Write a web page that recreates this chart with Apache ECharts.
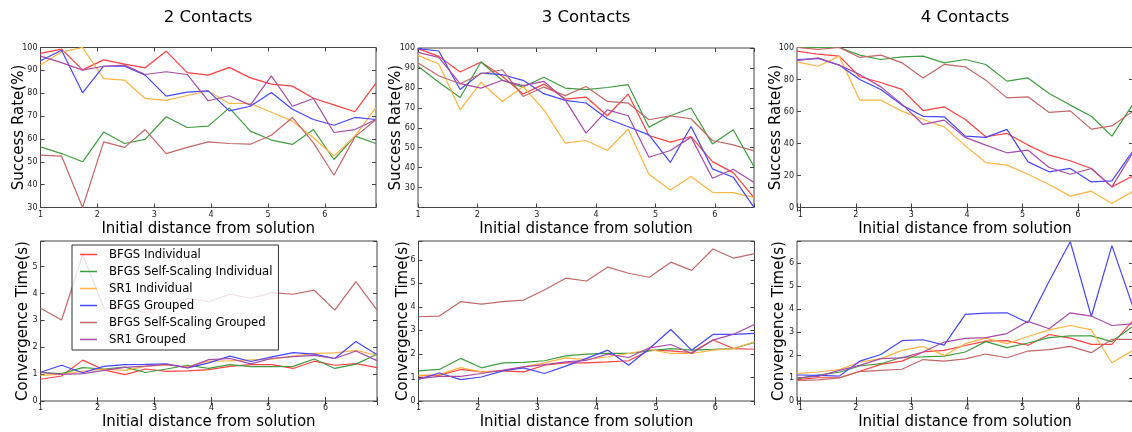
<!DOCTYPE html>
<html>
<head>
<meta charset="utf-8">
<title>Success rate and convergence time by number of contacts</title>
<script src="https://cdn.jsdelivr.net/npm/echarts@6.0.0/dist/echarts.min.js"></script>
<style>
  html, body { margin: 0; padding: 0; background: #fff; }
  #chart { width: 1132px; height: 432px; }
</style>
</head>
<body>
<div id="chart"></div>
<script>
// x positions (initial distance from solution) for each contact count
const xTwo   = [1.00, 1.37, 1.74, 2.11, 2.48, 2.84, 3.21, 3.58, 3.95, 4.32, 4.69, 5.06, 5.43, 5.80, 6.16, 6.53, 6.90]
const xThree = [1.00, 1.35, 1.71, 2.06, 2.42, 2.77, 3.12, 3.48, 3.83, 4.19, 4.54, 4.89, 5.25, 5.60, 5.96, 6.31, 6.66]
const xFour  = [0.94, 1.32, 1.70, 2.07, 2.45, 2.83, 3.21, 3.59, 3.97, 4.34, 4.72, 5.10, 5.48, 5.86, 6.24, 6.61, 6.99]

const methods = ['BFGS Individual', 'BFGS Self-Scaling Individual', 'SR1 Individual',
  'BFGS Grouped', 'BFGS Self-Scaling Grouped', 'SR1 Grouped']
const colors = ['#ff4040', '#3f9d3f', '#ffb444', '#4646ff', '#c26868', '#a64ca6']

// success rate (%) - 2 contacts
const rate2BfgsInd   = [97.4, 99.3, 90.2, 94.6, 92.7, 91.1, 98.4, 89.0, 87.9, 91.3, 86.7, 84.0, 83.1, 77.8, 74.9, 71.9, 84.4]
const rate2SelfInd   = [56.5, 53.6, 50.0, 63.0, 58.0, 59.8, 69.7, 65.0, 65.6, 73.6, 63.4, 59.5, 57.6, 64.1, 51.0, 61.2, 58.0]
const rate2Sr1Ind    = [92.3, 98.1, 100, 86.4, 85.7, 77.7, 76.9, 79.0, 81.0, 75.5, 75.5, 71.7, 67.8, 60.5, 52.5, 61.2, 73.8]
const rate2BfgsGrp   = [94.2, 98.8, 80.2, 91.8, 91.8, 87.9, 78.7, 80.5, 81.0, 72.3, 74.3, 80.3, 73.0, 68.5, 66.0, 69.4, 68.5]
const rate2SelfGrp   = [52.9, 52.5, 30.0, 58.7, 56.3, 64.1, 53.6, 56.3, 58.7, 58.0, 57.7, 61.6, 69.4, 58.3, 44.1, 60.9, 68.5]
const rate2Sr1Grp    = [96.2, 93.4, 90.1, 91.8, 92.3, 88.2, 89.4, 88.2, 76.7, 78.9, 74.8, 87.6, 74.3, 77.7, 62.8, 64.1, 68.5]

// success rate (%) - 3 contacts
const rate3BfgsInd   = [99.7, 95.8, 88.0, 93.0, 85.8, 76.9, 81.9, 74.4, 75.4, 66.0, 76.9, 56.1, 52.8, 55.6, 43.0, 37.5, 25.0]
const rate3SelfInd   = [90.8, 82.8, 75.2, 93.0, 83.8, 80.4, 85.3, 79.9, 79.1, 80.2, 81.6, 60.3, 66.0, 69.9, 51.9, 59.0, 40.5]
const rate3Sr1Ind    = [96.3, 92.0, 69.0, 82.8, 73.2, 80.7, 69.0, 52.3, 53.6, 48.6, 59.3, 36.7, 28.8, 35.5, 27.6, 27.5, 25.0]
const rate3BfgsGrp   = [99.7, 98.5, 79.2, 87.4, 86.6, 83.8, 77.1, 73.7, 72.4, 64.5, 60.5, 56.4, 42.6, 60.6, 39.4, 35.2, 20.1]
const rate3SelfGrp   = [92.5, 86.1, 82.1, 87.1, 89.1, 75.7, 80.4, 76.1, 80.7, 73.2, 72.4, 64.0, 66.0, 64.5, 53.6, 51.4, 48.4]
const rate3Sr1Grp    = [97.8, 95.3, 82.1, 79.9, 83.8, 81.1, 83.3, 74.0, 57.3, 69.0, 66.0, 45.2, 48.6, 55.3, 34.7, 39.2, 32.5]

// success rate (%) - 4 contacts
const rate4BfgsInd   = [97.7, 95.8, 94.6, 81.7, 78.1, 73.8, 60.6, 62.9, 55.0, 44.2, 46.3, 39.0, 32.7, 29.2, 24.4, 12.9, 19.8]
const rate4SelfInd   = [100, 100, 100, 95.2, 92.5, 94.2, 94.6, 90.4, 92.5, 89.4, 79.0, 81.0, 71.3, 64.0, 57.0, 44.6, 64.6]
const rate4Sr1Ind    = [91.0, 88.3, 94.6, 67.1, 67.1, 60.2, 55.0, 50.4, 38.5, 28.1, 26.5, 20.8, 14.4, 7.1, 10.2, 2.5, 10.2]
const rate4BfgsGrp   = [92.5, 93.1, 89.0, 80.0, 73.8, 64.0, 57.0, 56.7, 44.6, 43.8, 48.8, 28.5, 22.3, 24.4, 16.0, 16.7, 35.4]
const rate4SelfGrp   = [100, 98.8, 100, 93.8, 95.2, 90.4, 81.0, 89.4, 87.9, 79.6, 68.5, 69.2, 59.4, 60.4, 49.0, 51.0, 60.2]
const rate4Sr1Grp    = [91.7, 93.5, 89.0, 83.1, 75.4, 64.6, 51.9, 54.6, 43.8, 39.0, 34.2, 35.8, 25.0, 20.8, 24.4, 12.9, 34.4]

// convergence time (s) - 2 contacts
const time2BfgsInd   = [0.81, 0.93, 1.52, 1.16, 0.98, 1.19, 1.10, 1.12, 1.17, 1.29, 1.35, 1.35, 1.21, 1.48, 1.33, 1.39, 1.24]
const time2SelfInd   = [1.06, 1.02, 1.24, 1.19, 1.26, 1.06, 1.19, 1.33, 1.21, 1.35, 1.28, 1.28, 1.29, 1.56, 1.21, 1.37, 1.74]
const time2Sr1Ind    = [0.95, 0.99, 1.11, 1.19, 1.14, 1.29, 1.33, 1.28, 1.48, 1.49, 1.53, 1.56, 1.67, 1.77, 1.79, 1.88, 1.70]
const time2BfgsGrp   = [1.07, 1.33, 1.05, 1.29, 1.35, 1.36, 1.38, 1.23, 1.42, 1.67, 1.47, 1.64, 1.80, 1.74, 1.58, 2.21, 1.72]
const time2SelfGrp   = [3.45, 3.01, 5.44, 3.45, 3.50, 3.28, 3.57, 3.82, 3.69, 3.97, 3.82, 4.03, 3.97, 4.12, 3.38, 4.44, 3.38]
const time2Sr1Grp    = [1.06, 0.99, 1.02, 1.14, 1.25, 1.30, 1.36, 1.24, 1.54, 1.58, 1.38, 1.59, 1.65, 1.70, 1.58, 1.86, 1.50]

// convergence time (s) - 3 contacts
const time3BfgsInd   = [1.07, 1.09, 1.34, 1.24, 1.28, 1.24, 1.52, 1.62, 1.62, 1.66, 1.71, 2.16, 2.13, 2.06, 2.59, 2.23, 2.20]
const time3SelfInd   = [1.28, 1.34, 1.81, 1.41, 1.62, 1.64, 1.71, 1.92, 1.99, 2.02, 2.02, 2.13, 2.23, 2.16, 2.19, 2.23, 2.49]
const time3Sr1Ind    = [1.09, 1.12, 1.42, 1.24, 1.27, 1.45, 1.62, 1.83, 1.76, 1.88, 2.02, 2.19, 2.02, 2.02, 2.16, 2.23, 2.52]
const time3BfgsGrp   = [0.92, 1.19, 0.91, 1.02, 1.28, 1.41, 1.17, 1.48, 1.81, 2.16, 1.52, 2.23, 3.04, 2.16, 2.83, 2.83, 2.87]
const time3SelfGrp   = [3.58, 3.61, 4.22, 4.12, 4.22, 4.29, 4.72, 5.22, 5.10, 5.69, 5.43, 5.26, 5.90, 5.55, 6.46, 6.07, 6.26]
const time3Sr1Grp    = [0.95, 1.05, 1.05, 1.17, 1.31, 1.45, 1.55, 1.66, 1.73, 1.99, 1.85, 2.26, 2.40, 2.02, 2.59, 2.84, 3.25]

// convergence time (s) - 4 contacts
const time4BfgsInd   = [0.93, 1.01, 1.01, 1.29, 1.59, 1.73, 2.13, 2.20, 2.41, 2.60, 2.62, 2.42, 2.89, 2.73, 2.46, 2.46, 3.50]
const time4SelfInd   = [0.97, 1.12, 1.25, 1.52, 1.62, 1.90, 1.92, 1.95, 2.13, 2.58, 2.32, 2.52, 2.75, 2.83, 2.83, 2.58, 3.25]
const time4Sr1Ind    = [1.19, 1.26, 1.36, 1.69, 1.84, 2.20, 2.37, 1.98, 2.49, 2.73, 2.49, 2.80, 3.09, 3.28, 3.09, 1.66, 2.20]
const time4BfgsGrp   = [1.13, 1.11, 1.08, 1.73, 2.02, 2.62, 2.66, 2.43, 3.76, 3.82, 3.83, 3.40, 5.20, 6.92, 3.67, 6.75, 4.08]
const time4SelfGrp   = [0.90, 0.92, 1.00, 1.28, 1.33, 1.38, 1.80, 1.73, 1.83, 2.04, 1.88, 2.17, 2.23, 2.37, 2.10, 2.68, 2.68]
const time4Sr1Grp    = [1.01, 1.07, 1.33, 1.55, 1.84, 1.87, 2.13, 2.56, 2.72, 2.75, 2.93, 3.46, 3.14, 3.83, 3.69, 3.28, 3.35]

const panels = [
  { grid: { left: 40.5, top: 47.5, width: 335.5, height: 160 }, x: xTwo, xMin: 1, xMax: 6.9,
    yMin: 30, yMax: 100, yStep: 10, yName: 'Success Rate(%)', yGap: 14,
    lines: [rate2BfgsInd, rate2SelfInd, rate2Sr1Ind, rate2BfgsGrp, rate2SelfGrp, rate2Sr1Grp] },
  { grid: { left: 418, top: 48, width: 336, height: 159.5 }, x: xThree, xMin: 1, xMax: 6.66,
    yMin: 20, yMax: 100, yStep: 10, yName: 'Success Rate(%)', yGap: 14, hideYMin: true,
    lines: [rate3BfgsInd, rate3SelfInd, rate3Sr1Ind, rate3BfgsGrp, rate3SelfGrp, rate3Sr1Grp] },
  { grid: { left: 797, top: 47.5, width: 336, height: 160 }, x: xFour, xMin: 0.94, xMax: 6.99,
    yMin: 0, yMax: 100, yStep: 20, yName: 'Success Rate(%)', yGap: 13,
    lines: [rate4BfgsInd, rate4SelfInd, rate4Sr1Ind, rate4BfgsGrp, rate4SelfGrp, rate4Sr1Grp] },
  { grid: { left: 40.5, top: 241, width: 336.5, height: 160 }, x: xTwo, xMin: 1, xMax: 6.9,
    yMin: 0, yMax: 5.95, yStep: 1, yName: 'Convergence Time(s)', yGap: 10,
    lines: [time2BfgsInd, time2SelfInd, time2Sr1Ind, time2BfgsGrp, time2SelfGrp, time2Sr1Grp] },
  { grid: { left: 418.5, top: 241, width: 336, height: 160 }, x: xThree, xMin: 1, xMax: 6.66,
    yMin: 0, yMax: 6.8, yStep: 1, yName: 'Convergence Time(s)', yGap: 8,
    lines: [time3BfgsInd, time3SelfInd, time3Sr1Ind, time3BfgsGrp, time3SelfGrp, time3Sr1Grp] },
  { grid: { left: 797, top: 241, width: 336, height: 160 }, x: xFour, xMin: 0.94, xMax: 6.99,
    yMin: 0, yMax: 6.95, yStep: 1, yName: 'Convergence Time(s)', yGap: 10,
    lines: [time4BfgsInd, time4SelfInd, time4Sr1Ind, time4BfgsGrp, time4SelfGrp, time4Sr1Grp] }
]

const titles = [
  { text: '2 Contacts', x: 208 },
  { text: '3 Contacts', x: 586 },
  { text: '4 Contacts', x: 965 }
]

const frameColor = '#444'

// only whole numbers get a label (the extent ends are ticks too)
const intLabel = (v) => Math.abs(v - Math.round(v)) < 1e-6 ? String(Math.round(v)) : ''

const tickStyle = { inside: true, length: 4, lineStyle: { color: frameColor, width: 1 } }

const grids = []
const xAxes = []
const yAxes = []
const series = []

panels.forEach((p, i) => {
  grids.push(Object.assign({ show: true, borderColor: frameColor, borderWidth: 1,
    backgroundColor: 'transparent', outerBoundsMode: 'none', containLabel: false }, p.grid))

  const xBase = {
    type: 'value', gridIndex: i, min: p.xMin, max: p.xMax, splitNumber: 6,
    axisLine: { show: false }, axisTick: tickStyle, splitLine: { show: false }
  }
  xAxes.push(Object.assign({}, xBase, {
    position: 'bottom',
    axisLabel: { fontSize: 8, color: '#222', margin: 3, formatter: intLabel },
    name: 'Initial distance from solution', nameLocation: 'middle', nameGap: 14,
    nameMoveOverlap: false,
    nameTextStyle: { fontSize: 15, color: '#000' }
  }))
  xAxes.push(Object.assign({}, xBase, { position: 'top', axisLabel: { show: false } }))

  const yBase = {
    type: 'value', gridIndex: i, min: p.yMin, max: p.yMax, interval: p.yStep,
    axisLine: { show: false }, axisTick: tickStyle, splitLine: { show: false }
  }
  yAxes.push(Object.assign({}, yBase, {
    position: 'left',
    axisLabel: { fontSize: 8, color: '#222', margin: 3, formatter: intLabel, showMinLabel: !p.hideYMin },
    name: p.yName, nameLocation: 'middle', nameGap: p.yGap,
    nameMoveOverlap: false,
    nameTextStyle: { fontSize: 15, color: '#000' }
  }))
  yAxes.push(Object.assign({}, yBase, { position: 'right', axisLabel: { show: false } }))

  p.lines.forEach((ys, k) => {
    series.push({
      name: methods[k],
      type: 'line',
      xAxisIndex: i * 2,
      yAxisIndex: i * 2,
      data: p.x.map((x, j) => [x, ys[j]]),
      symbol: 'none',
      color: colors[k],
      lineStyle: { width: 1.2, color: colors[k] },
      clip: true
    })
  })
})

const chart = echarts.init(document.getElementById('chart'), null, { renderer: 'canvas' })

chart.setOption({
  animation: false,
  textStyle: { fontFamily: 'DejaVu Sans' },
  grid: grids,
  xAxis: xAxes,
  yAxis: yAxes,
  series: series,
  legend: {
    data: methods,
    orient: 'vertical',
    left: 72,
    top: 245,
    icon: 'rect',
    itemWidth: 17,
    itemHeight: 1.5,
    itemGap: 0,
    padding: [1, 6, 2, 8],
    backgroundColor: 'rgba(255,255,255,0.8)',
    borderColor: '#333',
    borderWidth: 1,
    borderRadius: 0,
    textStyle: { fontSize: 11.7, color: '#000', lineHeight: 17, padding: [0, 0, 0, 7] }
  },
  graphic: titles.map(t => ({
    type: 'text',
    x: t.x,
    y: 18,
    style: {
      text: t.text,
      fontSize: 16.5,
      fontFamily: 'DejaVu Sans',
      fill: '#000',
      align: 'center',
      verticalAlign: 'middle'
    }
  }))
})

window.addEventListener('resize', () => chart.resize())
</script>
</body>
</html>
